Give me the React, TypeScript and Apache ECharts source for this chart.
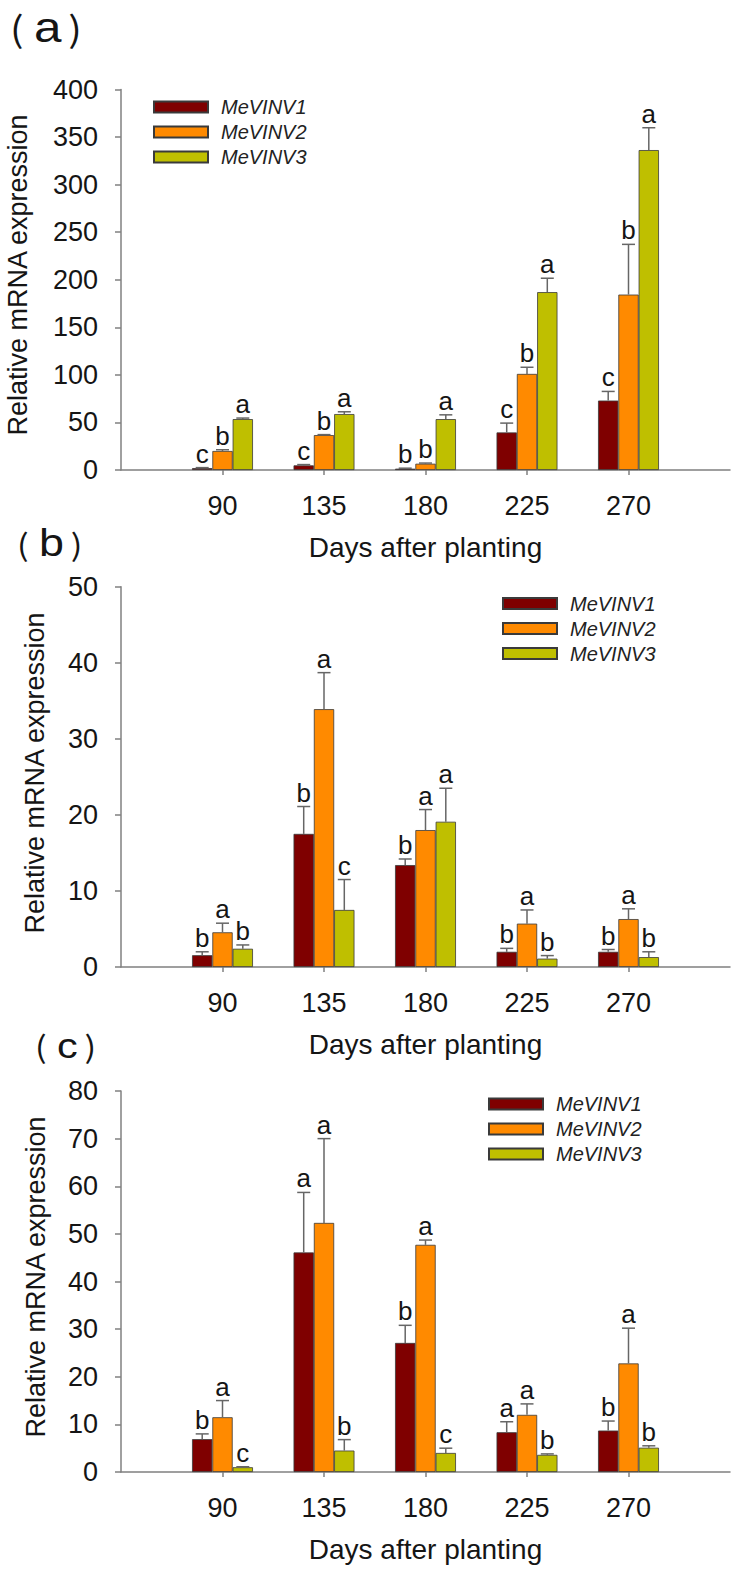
import React, { useEffect, useRef } from 'react';
import * as echarts from 'echarts';

// ---------- data ----------
const days = [90, 135, 180, 225, 270];
const geneNames = ['MeVINV1', 'MeVINV2', 'MeVINV3'];
const geneColors = ['#7f0000', '#ff8a00', '#bfbf00'];

// panel (a)
const aV1 = [2, 4.9, 1.4, 39.5, 73];
const aV1Err = [0.5, 0.8, 0.5, 9.8, 9.6];
const aV2 = [20, 36.7, 6.6, 101, 184.4];
const aV2Err = [1.3, 0.5, 0.7, 7, 52.8];
const aV3 = [53.5, 58.8, 53.5, 187, 336.3];
const aV3Err = [1.1, 2.4, 4.5, 14.6, 23.5];
const aL1 = ['c', 'c', 'b', 'c', 'c'];
const aL2 = ['b', 'b', 'b', 'b', 'b'];
const aL3 = ['a', 'a', 'a', 'a', 'a'];

// panel (b)
const bV1 = [1.55, 17.5, 13.4, 2.0, 2.0];
const bV1Err = [0.45, 3.6, 0.8, 0.45, 0.3];
const bV2 = [4.56, 33.9, 18.0, 5.7, 6.3];
const bV2Err = [1.2, 4.8, 2.7, 1.8, 1.35];
const bV3 = [2.4, 7.5, 19.1, 1.1, 1.3];
const bV3Err = [0.5, 4.0, 4.4, 0.4, 0.7];
const bL1 = ['b', 'b', 'b', 'b', 'b'];
const bL2 = ['a', 'a', 'a', 'a', 'a'];
const bL3 = ['b', 'c', 'a', 'b', 'b'];

// panel (c)
const cV1 = [6.9, 46.1, 27.1, 8.35, 8.7];
const cV1Err = [1.1, 12.6, 3.7, 2.2, 2.0];
const cV2 = [11.5, 52.3, 47.7, 12.0, 22.8];
const cV2Err = [3.5, 17.7, 1.0, 2.3, 7.4];
const cV3 = [1.0, 4.5, 4.0, 3.6, 5.1];
const cV3Err = [0.1, 2.3, 1.0, 0.2, 0.4];
const cL1 = ['b', 'a', 'b', 'a', 'b'];
const cL2 = ['a', 'a', 'a', 'a', 'a'];
const cL3 = ['c', 'b', 'c', 'b', 'b'];

const yMaxes = [400, 50, 80];
const ySteps = [50, 10, 10];
const panelLetters = ['a', 'b', 'c'];
const xAxisTitle = 'Days after planting';
const yAxisTitle = 'Relative mRNA expression';

const panels = [
  { vals: [aV1, aV2, aV3], errs: [aV1Err, aV2Err, aV3Err], letters: [aL1, aL2, aL3] },
  { vals: [bV1, bV2, bV3], errs: [bV1Err, bV2Err, bV3Err], letters: [bL1, bL2, bL3] },
  { vals: [cV1, cV2, cV3], errs: [cV1Err, cV2Err, cV3Err], letters: [cL1, cL2, cL3] },
];

// ---------- layout / style ----------
const FONT = '"Liberation Sans", Arial, Helvetica, sans-serif';
const CJK = '"Noto Sans CJK SC", sans-serif';
const TEXT = '#151515';
const AXIS = '#808080';
const BAR_W = 20.3;
const grids = [
  { left: 121, top: 89.5, width: 609, height: 380.5 },
  { left: 121, top: 586.7, width: 609, height: 380.3 },
  { left: 121, top: 1091, width: 609, height: 381 },
];
const legendPos = [
  { left: 153, top: 97 },
  { left: 502, top: 593.5 },
  { left: 488, top: 1094 },
];
const titlePos = [
  { x: 10, y: 27, p: 35, l: 43, padL: 9, padR: 6, sx: 1.15 },
  { x: 17, y: 543, p: 30, l: 39, padL: 9, padR: 6, sx: 1.15 },
  { x: 35, y: 1045, p: 30, l: 36, padL: 9, padR: 6, sx: 1.15 },
];
const yNamePos = [
  { x: 17.5, y: 275 },
  { x: 35, y: 773 },
  { x: 36, y: 1277 },
];

export default function App() {
  const ref = useRef<HTMLDivElement>(null);

  useEffect(() => {
    document.body.style.margin = '0';
    if (!ref.current) return;
    const chart = echarts.init(ref.current, null, { renderer: 'svg' });

    const xAxes: any[] = [];
    const yAxes: any[] = [];
    const series: any[] = [];
    const legends: any[] = [];
    const graphics: any[] = [];

    panels.forEach((panel, p) => {
      xAxes.push({
        type: 'value',
        gridIndex: p,
        min: 45,
        max: 315,
        interval: 45,
        splitLine: { show: false },
        axisLine: { show: true, lineStyle: { color: AXIS, width: 1.5 } },
        axisTick: { show: true, length: 5, customValues: days, lineStyle: { color: AXIS, width: 1.5 } },
        axisLabel: {
          customValues: days,
          fontSize: 27,
          margin: 22,
          color: TEXT,
          fontFamily: FONT,
        },
        name: xAxisTitle,
        nameLocation: 'middle',
        nameGap: 63,
        nameTextStyle: { fontSize: 28, color: TEXT, fontFamily: FONT },
      });
      yAxes.push({
        type: 'value',
        gridIndex: p,
        min: 0,
        max: yMaxes[p],
        interval: ySteps[p],
        splitLine: { show: false },
        axisLine: { show: true, lineStyle: { color: AXIS, width: 1.5 } },
        axisTick: { show: true, length: 6, lineStyle: { color: AXIS, width: 1.5 } },
        axisLabel: { fontSize: 27, margin: 23, color: TEXT, fontFamily: FONT },
      });

      panel.vals.forEach((vals, g) => {
        series.push({
          type: 'bar',
          name: geneNames[g],
          xAxisIndex: p,
          yAxisIndex: p,
          barWidth: BAR_W,
          barGap: '0%',
          itemStyle: { color: geneColors[g], borderColor: '#3a3a3a', borderWidth: 0.8 },
          data: days.map((d, i) => [d, vals[i]]),
          z: 2,
        });
      });

      panel.vals.forEach((vals, g) => {
        const errs = panel.errs[g];
        const letters = panel.letters[g];
        series.push({
          type: 'custom',
          xAxisIndex: p,
          yAxisIndex: p,
          z: 5,
          silent: true,
          data: days.map((d, i) => [d, vals[i], errs[i], i]),
          renderItem: (params: any, api: any) => {
            const x = api.value(0);
            const v = api.value(1);
            const e = api.value(2);
            const idx = api.value(3);
            const base = api.coord([x, v]);
            const top = api.coord([x, v + e]);
            const cx = base[0] + (g - 1) * BAR_W;
            return {
              type: 'group',
              children: [
                {
                  type: 'line',
                  shape: { x1: cx, y1: base[1], x2: cx, y2: top[1] },
                  style: { stroke: '#666', lineWidth: 1.5 },
                },
                {
                  type: 'line',
                  shape: { x1: cx - 6.5, y1: top[1], x2: cx + 6.5, y2: top[1] },
                  style: { stroke: '#666', lineWidth: 1.5 },
                },
                {
                  type: 'text',
                  x: cx,
                  y: top[1] - 1,
                  style: {
                    text: letters[idx],
                    fontSize: 26,
                    fontFamily: FONT,
                    fill: TEXT,
                    align: 'center',
                    verticalAlign: 'bottom',
                  },
                },
              ],
            };
          },
        });
      });

      legends.push({
        data: geneNames,
        orient: 'vertical',
        left: legendPos[p].left,
        top: legendPos[p].top,
        padding: 0,
        icon: 'rect',
        itemWidth: 54,
        itemHeight: 11,
        itemGap: 5,
        selectedMode: false,
        textStyle: {
          fontSize: 20,
          fontStyle: 'italic',
          fontFamily: FONT,
          color: '#222',
          padding: [0, 0, 0, 8],
        },
      });

      const t = titlePos[p];
      graphics.push({
        type: 'text',
        x: t.x,
        y: t.y,
        scaleX: t.sx,
        style: {
          text: '{p|(}{l|' + panelLetters[p] + '}{p|)}',
          verticalAlign: 'middle',
          align: 'left',
          rich: {
            p: { fontSize: t.p, fontFamily: CJK, fill: TEXT },
            l: { fontSize: t.l, fontFamily: FONT, fill: TEXT, padding: [0, t.padR, 0, t.padL] },
          },
        },
      });
      graphics.push({
        type: 'text',
        x: yNamePos[p].x,
        y: yNamePos[p].y,
        rotation: Math.PI / 2,
        style: {
          text: yAxisTitle,
          fontSize: 27,
          fontFamily: FONT,
          fill: TEXT,
          align: 'center',
          verticalAlign: 'middle',
        },
      });
    });

    chart.setOption({
      animation: false,
      backgroundColor: '#ffffff',
      grid: grids.map((g) => ({ ...g, containLabel: false })),
      xAxis: xAxes,
      yAxis: yAxes,
      legend: legends,
      series,
      graphic: graphics,
    });

    return () => chart.dispose();
  }, []);

  return <div ref={ref} style={{ width: 739, height: 1575 }} />;
}
